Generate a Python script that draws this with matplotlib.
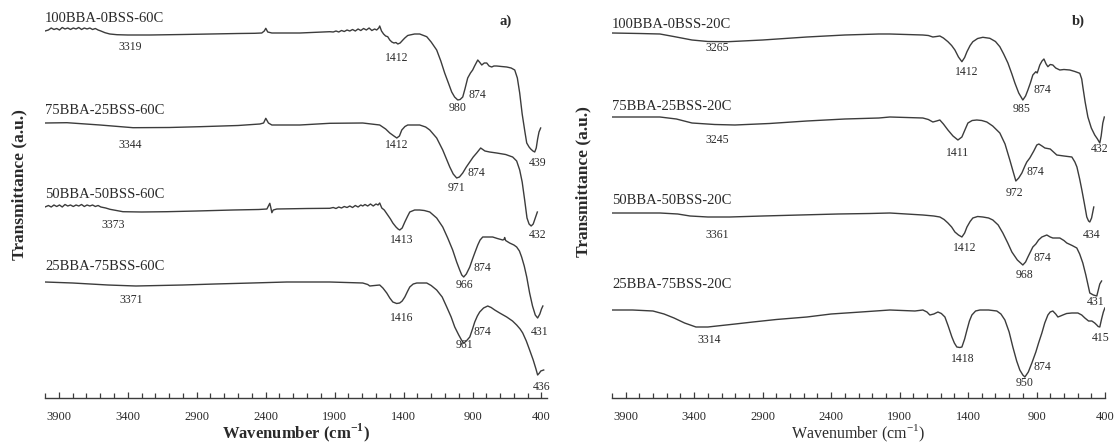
import matplotlib.pyplot as plt
from matplotlib.ticker import MultipleLocator

plt.rcParams['font.family'] = ['Liberation Serif', 'DejaVu Serif']
plt.rcParams['mathtext.fontset'] = 'custom'
plt.rcParams['mathtext.rm'] = 'Liberation Serif'
plt.rcParams['mathtext.bf'] = 'Liberation Serif:bold'

# ---------------- a) samples cured at 60 C (offset transmittance, a.u.) ----------------
a1_name = '100BBA-0BSS-60C'
a1_wn = [4000, 3975, 3955, 3935, 3915, 3895, 3875, 3855, 3835, 3815,
         3795, 3775, 3755, 3735, 3715, 3695, 3675, 3655, 3635, 3615,
         3595, 3565, 3530, 3478, 3400, 3239, 3000, 2800, 2600, 2480,
         2428, 2410, 2399, 2385, 2355, 2152, 1935, 1910, 1890, 1870,
         1850, 1830, 1810, 1790, 1770, 1750, 1730, 1710, 1690, 1670,
         1650, 1630, 1610, 1595, 1580, 1573, 1560, 1545, 1530, 1515,
         1500, 1485, 1470, 1455, 1442, 1425, 1405, 1391, 1370, 1355,
         1320, 1283, 1232, 1200, 1160, 1130, 1102, 1075, 1051, 1030,
         1007, 990, 971, 955, 935, 915, 899, 885, 862, 850,
         833, 815, 797, 780, 761, 745, 725, 690, 652, 620,
         594, 575, 558, 540, 520, 507, 490, 478, 462, 449,
         438, 428, 418, 406]
a1_t = [363, 364, 366, 364.5, 365.5, 364, 366.5, 365, 366, 364.5,
        366, 365, 366.5, 364.5, 366, 365, 366, 364.5, 365.5, 364,
        363, 361.3, 360, 359.3, 359, 359, 359.5, 360, 360.5, 360.7,
        361, 363, 365.7, 362, 361, 361, 362.3, 362, 363, 362,
        363.5, 362.5, 364, 363, 364.5, 363, 365, 363.5, 365.5, 364,
        366, 363.5, 365, 364, 366, 368, 363, 360, 358, 357.3,
        354, 352, 351, 351.5, 350, 351, 354, 356, 358.5, 359,
        360, 360, 357.3, 352, 344, 333, 321, 311, 302, 297,
        294, 294.5, 297, 305, 316, 321, 324, 328, 334, 332,
        329, 331, 331, 328, 327, 328, 328, 327.5, 327, 326,
        324, 316, 301, 280, 262, 251, 247, 245, 243, 242,
        246, 255, 262, 266]

a2_name = '75BBA-25BSS-60C'
a2_wn = [4000, 3841, 3601, 3362, 3100, 2877, 2600, 2442, 2415, 2399,
         2380, 2355, 2152, 1935, 1696, 1573, 1530, 1500, 1470, 1449,
         1430, 1413, 1390, 1370, 1283, 1240, 1210, 1160, 1116, 1065,
         1040, 1015, 995, 971, 945, 920, 895, 870, 841, 810,
         776, 725, 660, 609, 580, 558, 540, 522, 505, 490,
         475, 460, 445, 430]
a2_t = [271, 271.3, 269, 266.3, 266.5, 267.3, 268.5, 270, 271, 275.7,
        271, 269, 269, 270.7, 271, 269, 265, 261, 258, 256,
        258, 264, 267.5, 269, 269, 267, 264, 256, 244, 227,
        220, 216, 217, 221, 227, 232, 237, 241, 246, 243,
        242, 241, 239.5, 237, 233, 224, 212, 194, 176, 170,
        168, 170, 176, 182]

a3_name = '50BBA-50BSS-60C'
a3_wn = [4000, 3975, 3955, 3935, 3915, 3895, 3875, 3855, 3835, 3815,
         3795, 3775, 3755, 3735, 3715, 3695, 3675, 3655, 3635, 3615,
         3595, 3560, 3529, 3435, 3300, 3116, 2900, 2638, 2450, 2391,
         2380, 2370, 2362, 2355, 2345, 2319, 2100, 1935, 1910, 1890,
         1870, 1850, 1830, 1810, 1790, 1770, 1750, 1730, 1710, 1696,
         1680, 1660, 1640, 1620, 1600, 1585, 1573, 1558, 1540, 1515,
         1495, 1478, 1455, 1440, 1428, 1410, 1391, 1370, 1355, 1320,
         1283, 1250, 1210, 1160, 1116, 1080, 1044, 1015, 993, 978,
         964, 945, 920, 900, 884, 862, 845, 826, 790, 754,
         720, 681, 672, 667, 660, 631, 600, 580, 560, 544,
         525, 507, 486, 465, 445, 428, 412, 400, 390]
a3_t = [187, 188.5, 187, 189, 187.5, 189, 187, 189.5, 188, 189,
        187.5, 189, 188, 189.5, 187.5, 189, 188, 189, 187.5, 188.5,
        187, 186, 184.7, 182.3, 182, 182.3, 183, 184, 184.5, 185,
        188, 190.7, 186, 181.3, 184, 185, 185.5, 185.7, 186.5, 185.5,
        187, 186, 187.5, 186.5, 188, 186.5, 188.5, 187, 189, 188,
        189.5, 188, 190, 188, 190, 189, 191, 186, 184, 179,
        175, 171, 167, 165, 164, 166, 172, 178, 182, 184,
        184, 183.5, 182, 176, 167, 156, 144, 132, 124, 119,
        117, 120, 127, 135, 141, 149, 154, 157, 157, 157,
        155.5, 154, 154.5, 156.5, 153.5, 151, 149, 147, 143, 137,
        128, 117, 101, 88, 79, 76, 80, 85, 88]

a4_name = '25BBA-75BSS-60C'
a4_wn = [4000, 3800, 3544, 3341, 3000, 2768, 2500, 2246, 1935, 1696,
         1660, 1645, 1610, 1573, 1550, 1522, 1500, 1478, 1450, 1428,
         1410, 1391, 1370, 1355, 1330, 1304, 1232, 1200, 1160, 1120,
         1087, 1055, 1029, 1000, 980, 964, 945, 920, 900, 884,
         865, 848, 820, 790, 765, 739, 703, 652, 610, 580,
         555, 536, 510, 486, 460, 440, 428, 415, 405, 384]
a4_t = [112, 111, 109, 108, 109, 110, 111, 112, 112, 111,
        109.5, 108, 108.5, 109, 106, 101, 96, 92, 90.5, 91,
        93, 97, 103, 107, 110, 111, 111, 108.5, 104, 97,
        87, 77, 67, 59, 54, 51, 53, 57, 65, 72,
        78, 82, 86, 88, 86.5, 84, 81, 77, 73, 69,
        65, 61, 53, 44, 34, 25, 19, 21, 23, 24]

# peak labels of panel a): text, wavenumber, height
a_peaks = ['3319', '1412', '980', '874', '439',
           '3344', '1412', '971', '874', '432',
           '3373', '1413', '966', '874', '431',
           '3371', '1416', '961', '874', '436']
a_peak_wn = [3384, 1449, 1007, 862, 428,
             3384, 1449, 1015, 870, 428,
             3507, 1413, 957, 826, 413,
             3377, 1413, 957, 826, 399]
a_peak_t = [347, 336, 286, 299, 231,
            249, 249, 206, 221, 159,
            169, 154, 109, 126, 62,
            94, 76, 49, 62, 7]

# ---------------- b) samples cured at 20 C ----------------
b1_name = '100BBA-0BSS-20C'
b1_wn = [4000, 3800, 3650, 3550, 3416, 3300, 3153, 2900, 2577, 2300,
         2051, 1971, 1730, 1690, 1657, 1630, 1606, 1580, 1547, 1520,
         1496, 1470, 1445, 1425, 1408, 1385, 1365, 1330, 1292, 1241,
         1200, 1168, 1140, 1109, 1080, 1058, 1030, 1000, 980, 963,
         945, 927, 905, 895, 876, 860, 846, 830, 817, 800,
         781, 760, 730, 700, 657, 620, 584, 570, 562, 545,
         525, 500, 475, 455, 438, 428, 416, 405]
b1_t = [361, 360.5, 360, 357.5, 354, 352.5, 352.3, 354, 357, 359,
        360, 360, 359, 358.5, 357, 357.5, 358, 356, 352.3, 348.5,
        344, 337, 332.3, 336.5, 342.3, 348.5, 352.3, 355.5, 356.7, 355.7,
        352.5, 347.3, 340, 331, 320, 311, 301, 294, 298, 304,
        311, 319, 322.3, 321, 329, 333, 335, 330, 327.3, 329.5,
        329, 326, 324, 324.5, 324, 322.5, 320.7, 315, 307.3, 292,
        277, 266, 259, 255, 251, 258, 271, 277]

b2_name = '75BBA-25BSS-20C'
b2_wn = [4000, 3800, 3650, 3530, 3416, 3250, 3102, 2850, 2577, 2300,
         2051, 1971, 1730, 1690, 1657, 1630, 1606, 1580, 1547, 1510,
         1474, 1445, 1420, 1401, 1370, 1336, 1300, 1263, 1220, 1168,
         1130, 1095, 1070, 1051, 1030, 1007, 985, 971, 949, 920,
         898, 883, 860, 839, 800, 752, 700, 642, 620, 605,
         585, 569, 550, 533, 520, 511, 498, 482]
b2_t = [277, 277, 277, 275, 271, 269.5, 269, 270.5, 273, 275,
        276, 277, 276, 274.5, 272, 273, 274, 270, 264, 258,
        254, 257, 265, 271, 273.5, 274, 273.5, 272, 268, 261,
        250, 234, 222, 213, 216, 221, 228, 232, 236, 243,
        249, 250, 248, 246, 245, 239, 238, 237, 232, 227,
        215, 204, 190, 177, 173, 172, 176, 187]

b3_name = '50BBA-50BSS-20C'
b3_wn = [4000, 3800, 3650, 3520, 3430, 3300, 3140, 2900, 2628, 2350,
         2117, 1971, 1730, 1650, 1606, 1575, 1547, 1520, 1496, 1470,
         1445, 1425, 1408, 1385, 1365, 1330, 1292, 1250, 1219, 1180,
         1146, 1110, 1080, 1040, 1000, 980, 963, 945, 927, 905,
         885, 861, 825, 800, 781, 730, 700, 679, 640, 606,
         585, 562, 540, 511, 485, 460, 438, 425]
b3_t = [181, 181, 181, 180, 178, 177, 177, 178, 179, 180,
        180.5, 181, 179, 178, 177, 174.5, 171, 167, 162, 159,
        157, 161, 167, 172.5, 176, 177.5, 177, 176, 174, 169,
        161, 151, 142, 134, 129, 132, 137, 142, 147, 150,
        154, 157, 159, 157, 156, 156, 153.5, 151, 148.5, 146,
        140, 131, 119, 101, 99, 98, 110, 113]

b4_name = '25BBA-75BSS-20C'
b4_wn = [4000, 3850, 3701, 3620, 3547, 3470, 3387, 3300, 3234, 3100,
         2971, 2800, 2577, 2400, 2182, 1971, 1788, 1730, 1700, 1679,
         1650, 1620, 1595, 1569, 1545, 1518, 1500, 1482, 1460, 1445,
         1425, 1408, 1390, 1372, 1345, 1314, 1250, 1190, 1160, 1131,
         1100, 1073, 1045, 1022, 1000, 985, 960, 934, 905, 885,
         861, 840, 817, 800, 781, 760, 744, 725, 708, 680,
         642, 598, 570, 547, 520, 496, 475, 460, 450, 438,
         425, 412, 401]
b4_t = [84, 84, 83, 80, 76, 71, 67, 67, 68, 70,
        72, 74.5, 77, 80, 82, 84, 83, 84, 82, 79,
        80, 82, 80.5, 77, 68, 57, 51, 47, 46.5, 47,
        55, 64, 73, 79, 83, 84, 84, 83, 80, 74,
        62, 47, 33, 24, 19, 17, 22, 31, 42, 51,
        61, 71, 79, 82, 83, 80, 77, 78, 79, 80.5,
        81, 81, 79, 76, 73, 73, 71, 69, 67.5, 67,
        75, 82, 86]

b_peaks = ['3265', '1412', '985', '874', '432',
           '3245', '1411', '972', '874', '434',
           '3361', '1412', '968', '874', '431',
           '3314', '1418', '950', '874', '415']
b_peak_wn = [3233, 1408, 1007, 854, 438,
             3233, 1474, 1058, 912, 496,
             3233, 1423, 985, 854, 467,
             3292, 1438, 985, 854, 430]
b_peak_t = [346, 322, 285, 304, 245,
            254, 241, 201, 222, 159,
            159, 146, 119, 136, 92,
            54, 35, 11, 27, 56]

major_ticks = [3900, 3400, 2900, 2400, 1900, 1400, 900, 400]

line_color = '#3c3c3c'
text_color = '#2a2a2a'

fig = plt.figure(figsize=(11.16, 4.43), dpi=100)
W, H = 1116, 443
base = 398          # pixel row of the wavenumber axis
ax_a = fig.add_axes([45 / W, (H - base) / H, 502 / W, base / H])
ax_b = fig.add_axes([612 / W, (H - base) / H, 493 / W, base / H])

panels = [
    (ax_a, [(a1_name, a1_wn, a1_t), (a2_name, a2_wn, a2_t),
            (a3_name, a3_wn, a3_t), (a4_name, a4_wn, a4_t)],
     [376, 284, 199, 127], a_peaks, a_peak_wn, a_peak_t, (4000, 360), 'a)', 0.917),
    (ax_b, [(b1_name, b1_wn, b1_t), (b2_name, b2_wn, b2_t),
            (b3_name, b3_wn, b3_t), (b4_name, b4_wn, b4_t)],
     [369, 287, 194, 109], b_peaks, b_peak_wn, b_peak_t, (4000, 400), 'b)', 0.945),
]

for ax, series, name_t, peaks, pk_wn, pk_t, xlim, tag, tag_x in panels:
    for (name, wn, t), ty in zip(series, name_t):
        ax.plot(wn, t, color=line_color, lw=1.0, solid_joinstyle='round')
        ax.text(xlim[0], ty, name, ha='left', va='center', fontsize=10.5,
                color=text_color)
    for s, x, y in zip(peaks, pk_wn, pk_t):
        ax.text(x, y, s, ha='center', va='center', fontsize=8.5, color=text_color)

    ax.set_xlim(*xlim)
    ax.set_ylim(394 - base, 394)
    ax.set_xticks(major_ticks)
    ax.xaxis.set_minor_locator(MultipleLocator(100))
    ax.tick_params(axis='x', which='both', direction='in', color=line_color,
                   labelsize=9, labelcolor=text_color, pad=9.5)
    ax.tick_params(axis='x', which='major', length=4, width=0.9)
    ax.tick_params(axis='x', which='minor', length=3.5, width=0.9)
    ax.set_yticks([])
    for side in ['left', 'right', 'top']:
        ax.spines[side].set_visible(False)
    ax.spines['bottom'].set_color(line_color)
    ax.spines['bottom'].set_linewidth(1.0)
    ax.patch.set_alpha(0)
    ax.text(tag_x, (394 - 17) / base, tag, transform=ax.transAxes,
            fontsize=10.5, fontweight='bold', ha='center', va='center',
            color=text_color)

ax_a.set_xlabel(r'Wavenumber (cm$^{\mathbf{-1}}$)', fontsize=12,
                fontweight='bold', va='center', color=text_color)
ax_a.xaxis.set_label_coords(0.5, -35 / base)
ax_b.set_xlabel(r'Wavenumber (cm$^{-1}$)', fontsize=11.5,
                va='center', color=text_color)
ax_b.xaxis.set_label_coords(0.5, -35.5 / base)

ax_a.set_ylabel('Transmittance (a.u.)', fontsize=12.5, fontweight='bold',
                va='center', color=text_color)
ax_a.yaxis.set_label_coords(-26 / 502, (base - 185) / base)
ax_b.set_ylabel('Transmittance (a.u.)', fontsize=12.5, fontweight='bold',
                va='center', color=text_color)
ax_b.yaxis.set_label_coords(-29 / 493, (base - 182) / base)

fig.savefig('out.png', dpi=100)
